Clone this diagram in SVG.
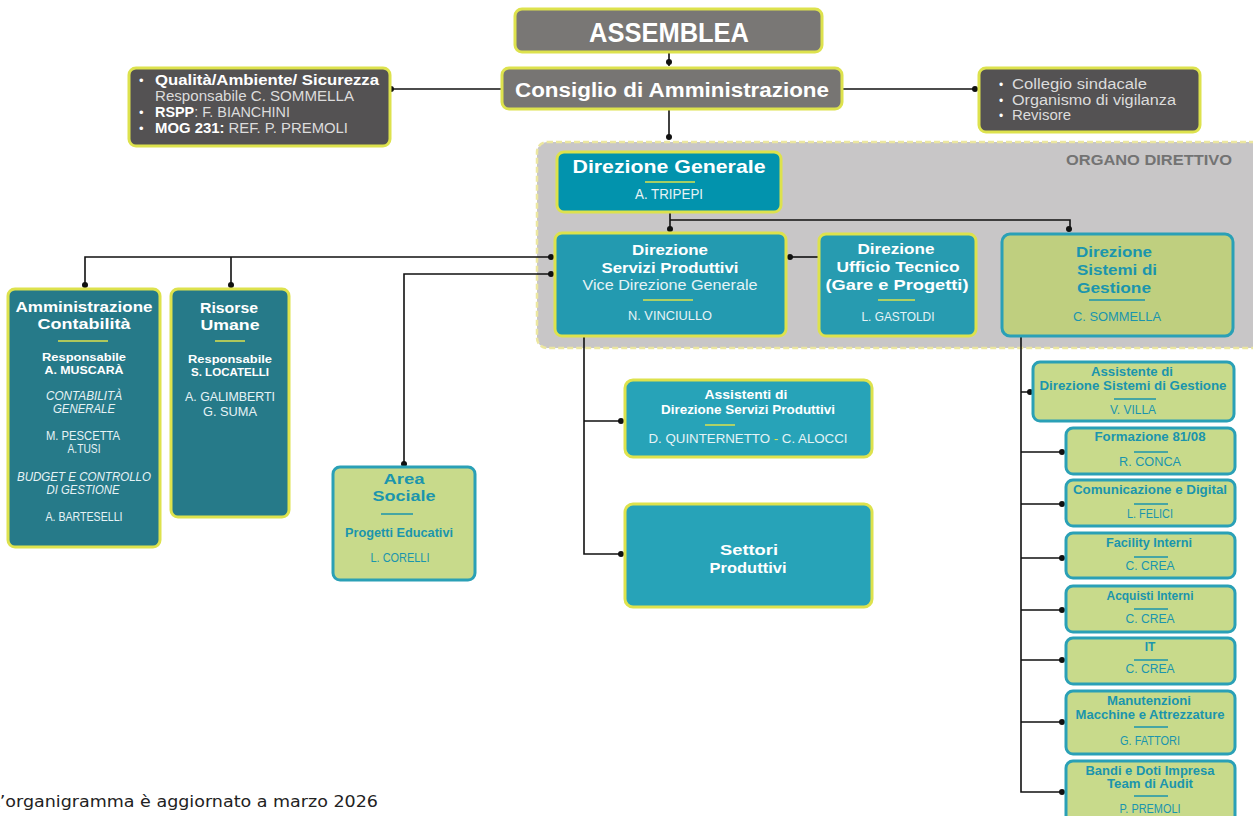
<svg xmlns="http://www.w3.org/2000/svg" width="1253" height="816" viewBox="0 0 1253 816">
<defs>
<style>
.t{font-family:"Liberation Sans",Arial,sans-serif}
.b{font-weight:bold}
.w{fill:#ffffff}
.lw{fill:#e6f3f6}
.tc{fill:#1b95ad}
.gy{fill:#dcdcdc}
.mid{text-anchor:middle}
.ylbox{stroke:#dde24d;stroke-width:3}
.tlbox{stroke:#2aa0b6;stroke-width:3}
.conn{stroke:#111;stroke-width:1.6;fill:none}
.dot{fill:#111}
</style>
</defs>
<rect width="1253" height="816" fill="#ffffff"/>

<g id="organo-direttivo">
<rect x="537" y="142" width="730" height="206" rx="10" fill="#c8c6c7" stroke="#ece7a0" stroke-width="2.5" stroke-dasharray="6 3"/>
<text class="t b" x="1232" y="165" font-size="15" fill="#737373" text-anchor="end" textLength="166" lengthAdjust="spacingAndGlyphs">ORGANO DIRETTIVO</text>
</g>

<g id="connectors">
<path class="conn" d="M669 52 V66"/>
<circle class="dot" cx="669" cy="62" r="3"/>
<path class="conn" d="M502 89 H390"/>
<circle class="dot" cx="391" cy="89" r="3"/>
<path class="conn" d="M842 89 H978"/>
<circle class="dot" cx="975" cy="89" r="3"/>
<path class="conn" d="M669 109 V138"/>
<circle class="dot" cx="669" cy="137" r="3"/>
<path class="conn" d="M670 212 V230 M670 220 H1070 V230"/>
<circle class="dot" cx="670" cy="229" r="3"/>
<circle class="dot" cx="1069" cy="229" r="3"/>
<path class="conn" d="M819 257 H789"/>
<circle class="dot" cx="790" cy="257" r="3"/>
<path class="conn" d="M555 257 H85 V288 M231 257 V288"/>
<circle class="dot" cx="551" cy="257" r="3"/>
<circle class="dot" cx="85" cy="285" r="3"/>
<circle class="dot" cx="231" cy="285" r="3"/>
<path class="conn" d="M555 274 H404 V466"/>
<circle class="dot" cx="551" cy="274" r="3"/>
<circle class="dot" cx="404" cy="464" r="3"/>
<path class="conn" d="M584 336 V554 H622 M584 421 H622"/>
<circle class="dot" cx="621" cy="421" r="3"/>
<circle class="dot" cx="621" cy="554" r="3"/>
<path class="conn" d="M1021 336 V792 H1064 M1021 392 H1031 M1021 452 H1064 M1021 504 H1064 M1021 558 H1064 M1021 610 H1064 M1021 660 H1064 M1021 722 H1064"/>
<circle class="dot" cx="1030" cy="392" r="3"/>
<circle class="dot" cx="1062" cy="452" r="3"/>
<circle class="dot" cx="1062" cy="504" r="3"/>
<circle class="dot" cx="1062" cy="558" r="3"/>
<circle class="dot" cx="1062" cy="610" r="3"/>
<circle class="dot" cx="1062" cy="660" r="3"/>
<circle class="dot" cx="1062" cy="722" r="3"/>
<circle class="dot" cx="1062" cy="792" r="3"/>
</g>

<g id="assemblea">
<rect class="ylbox" x="515" y="9" width="307" height="43" rx="7" fill="#797775"/>
<text class="t b w mid" x="669" y="42" font-size="27" textLength="160" lengthAdjust="spacingAndGlyphs">ASSEMBLEA</text>
</g>

<g id="consiglio">
<rect class="ylbox" x="502" y="68" width="340" height="41" rx="7" fill="#777573"/>
<text class="t b w mid" x="672" y="97" font-size="20" textLength="314" lengthAdjust="spacingAndGlyphs">Consiglio di Amministrazione</text>
</g>

<g id="qualita">
<rect class="ylbox" x="129" y="68" width="261" height="78" rx="7" fill="#545253"/>
<text class="t w" x="139" y="85" font-size="13">•</text>
<text class="t b w" x="155" y="85" font-size="14" textLength="224" lengthAdjust="spacingAndGlyphs">Qualità/Ambiente/ Sicurezza</text>
<text class="t gy" x="155" y="101" font-size="14.5" textLength="199" lengthAdjust="spacingAndGlyphs">Responsabile C. SOMMELLA</text>
<text class="t w" x="139" y="117" font-size="13">•</text>
<text class="t gy" x="155" y="117" font-size="14.5" textLength="135" lengthAdjust="spacingAndGlyphs"><tspan class="b w">RSPP</tspan>: F. BIANCHINI</text>
<text class="t w" x="139" y="133" font-size="13">•</text>
<text class="t gy" x="155" y="133" font-size="14.5" textLength="193" lengthAdjust="spacingAndGlyphs"><tspan class="b w">MOG 231:</tspan> REF. P. PREMOLI</text>
</g>

<g id="collegio">
<rect class="ylbox" x="979" y="68" width="221" height="64" rx="7" fill="#545253"/>
<text class="t w" x="999" y="89" font-size="12">•</text>
<text class="t gy" x="1012" y="89" font-size="15.5" textLength="135" lengthAdjust="spacingAndGlyphs">Collegio sindacale</text>
<text class="t w" x="999" y="105" font-size="12">•</text>
<text class="t gy" x="1012" y="105" font-size="15.5" textLength="164" lengthAdjust="spacingAndGlyphs">Organismo di vigilanza</text>
<text class="t w" x="999" y="120" font-size="12">•</text>
<text class="t gy" x="1012" y="120" font-size="15.5" textLength="59" lengthAdjust="spacingAndGlyphs">Revisore</text>
</g>

<g id="direzione-generale">
<rect class="ylbox" x="557" y="152" width="224" height="60" rx="7" fill="#0293ad"/>
<text class="t b w mid" x="669" y="173" font-size="19" textLength="193" lengthAdjust="spacingAndGlyphs">Direzione Generale</text>
<line x1="645" y1="182" x2="695" y2="182" stroke="#dde24d" stroke-width="1.5"/>
<text class="t lw mid" x="669" y="199" font-size="14" textLength="68" lengthAdjust="spacingAndGlyphs">A. TRIPEPI</text>
</g>

<g id="direzione-servizi-produttivi">
<rect class="ylbox" x="555" y="233" width="231" height="103" rx="7" fill="#239ab0"/>
<text class="t b w mid" x="670" y="255" font-size="15.5" textLength="76" lengthAdjust="spacingAndGlyphs">Direzione</text>
<text class="t b w mid" x="670" y="273" font-size="15.5" textLength="137" lengthAdjust="spacingAndGlyphs">Servizi Produttivi</text>
<text class="t lw mid" x="670" y="290" font-size="15" textLength="175" lengthAdjust="spacingAndGlyphs">Vice Direzione Generale</text>
<line x1="643" y1="300" x2="693" y2="300" stroke="#dde24d" stroke-width="1.5"/>
<text class="t lw mid" x="670" y="320" font-size="13" textLength="84" lengthAdjust="spacingAndGlyphs">N. VINCIULLO</text>
</g>

<g id="direzione-ufficio-tecnico">
<rect class="ylbox" x="819" y="234" width="157" height="102" rx="7" fill="#279bb0"/>
<text class="t b w mid" x="896" y="254" font-size="15.5" textLength="77" lengthAdjust="spacingAndGlyphs">Direzione</text>
<text class="t b w mid" x="898" y="272" font-size="15.5" textLength="123" lengthAdjust="spacingAndGlyphs">Ufficio Tecnico</text>
<text class="t b w mid" x="897" y="290" font-size="15.5" textLength="143" lengthAdjust="spacingAndGlyphs">(Gare e Progetti)</text>
<line x1="878" y1="300" x2="915" y2="300" stroke="#dde24d" stroke-width="1.5"/>
<text class="t lw mid" x="898" y="321" font-size="13" textLength="73" lengthAdjust="spacingAndGlyphs">L. GASTOLDI</text>
</g>

<g id="direzione-sistemi-gestione">
<rect class="tlbox" x="1002" y="234" width="231" height="102" rx="8" fill="#bfcf7f"/>
<text class="t b tc" x="1076" y="257" font-size="15.5" textLength="76" lengthAdjust="spacingAndGlyphs">Direzione</text>
<text class="t b tc" x="1077" y="275" font-size="15.5" textLength="80" lengthAdjust="spacingAndGlyphs">Sistemi di</text>
<text class="t b tc" x="1077" y="293" font-size="15.5" textLength="74" lengthAdjust="spacingAndGlyphs">Gestione</text>
<line x1="1089" y1="300" x2="1145" y2="300" stroke="#1b95ad" stroke-width="1.5"/>
<text class="t tc mid" x="1117" y="321" font-size="13" textLength="88" lengthAdjust="spacingAndGlyphs">C. SOMMELLA</text>
</g>

<g id="amministrazione-contabilita">
<rect class="ylbox" x="8" y="289" width="152" height="258" rx="7" fill="#267a89"/>
<text class="t b w mid" x="84" y="312" font-size="15.5" textLength="137" lengthAdjust="spacingAndGlyphs">Amministrazione</text>
<text class="t b w mid" x="84" y="329" font-size="15.5" textLength="93" lengthAdjust="spacingAndGlyphs">Contabilità</text>
<line x1="58" y1="341" x2="108" y2="341" stroke="#dde24d" stroke-width="1.5"/>
<text class="t b w mid" x="84" y="361" font-size="11.5" textLength="84" lengthAdjust="spacingAndGlyphs">Responsabile</text>
<text class="t b w mid" x="84" y="374" font-size="11.5" textLength="79" lengthAdjust="spacingAndGlyphs">A. MUSCARÀ</text>
<text class="t lw mid" x="84" y="400" font-size="12" font-style="italic" textLength="76" lengthAdjust="spacingAndGlyphs">CONTABILITÀ</text>
<text class="t lw mid" x="84" y="413" font-size="12" font-style="italic" textLength="62" lengthAdjust="spacingAndGlyphs">GENERALE</text>
<text class="t lw mid" x="83" y="440" font-size="12" textLength="74" lengthAdjust="spacingAndGlyphs">M. PESCETTA</text>
<text class="t lw mid" x="84" y="453" font-size="12" textLength="33" lengthAdjust="spacingAndGlyphs">A.TUSI</text>
<text class="t lw mid" x="84" y="481" font-size="12" font-style="italic" textLength="134" lengthAdjust="spacingAndGlyphs">BUDGET E CONTROLLO</text>
<text class="t lw mid" x="83" y="494" font-size="12" font-style="italic" textLength="73" lengthAdjust="spacingAndGlyphs">DI GESTIONE</text>
<text class="t lw mid" x="84" y="521" font-size="12" textLength="77" lengthAdjust="spacingAndGlyphs">A. BARTESELLI</text>
</g>

<g id="risorse-umane">
<rect class="ylbox" x="171" y="289" width="118" height="228" rx="7" fill="#267a89"/>
<text class="t b w mid" x="229" y="313" font-size="15.5" textLength="58" lengthAdjust="spacingAndGlyphs">Risorse</text>
<text class="t b w mid" x="230" y="330" font-size="15.5" textLength="59" lengthAdjust="spacingAndGlyphs">Umane</text>
<line x1="215" y1="341" x2="245" y2="341" stroke="#dde24d" stroke-width="1.5"/>
<text class="t b w mid" x="230" y="363" font-size="11.5" textLength="84" lengthAdjust="spacingAndGlyphs">Responsabile</text>
<text class="t b w mid" x="230" y="376" font-size="11.5" textLength="78" lengthAdjust="spacingAndGlyphs">S. LOCATELLI</text>
<text class="t lw mid" x="230" y="401" font-size="12" textLength="90" lengthAdjust="spacingAndGlyphs">A. GALIMBERTI</text>
<text class="t lw mid" x="230" y="416" font-size="12" textLength="54" lengthAdjust="spacingAndGlyphs">G. SUMA</text>
</g>

<g id="area-sociale">
<rect class="tlbox" x="333" y="467" width="142" height="113" rx="7" fill="#c8da8b"/>
<text class="t b tc mid" x="404" y="484" font-size="15.5" textLength="41" lengthAdjust="spacingAndGlyphs">Area</text>
<text class="t b tc mid" x="404" y="501" font-size="15.5" textLength="63" lengthAdjust="spacingAndGlyphs">Sociale</text>
<line x1="381" y1="514" x2="413" y2="514" stroke="#1b95ad" stroke-width="1.5"/>
<text class="t b tc mid" x="399" y="537" font-size="12" textLength="108" lengthAdjust="spacingAndGlyphs">Progetti Educativi</text>
<text class="t tc mid" x="400" y="562" font-size="13" textLength="59" lengthAdjust="spacingAndGlyphs">L. CORELLI</text>
</g>

<g id="assistenti-dsp">
<rect class="ylbox" x="625" y="380" width="247" height="77" rx="8" fill="#27a3b8"/>
<text class="t b w mid" x="746" y="399" font-size="12" textLength="83" lengthAdjust="spacingAndGlyphs">Assistenti di</text>
<text class="t b w mid" x="748" y="414" font-size="12" textLength="174" lengthAdjust="spacingAndGlyphs">Direzione Servizi Produttivi</text>
<line x1="705" y1="425" x2="735" y2="425" stroke="#dde24d" stroke-width="1.5"/>
<text class="t lw mid" x="748" y="443" font-size="13" textLength="199" lengthAdjust="spacingAndGlyphs">D. QUINTERNETTO <tspan fill="#dde24d">-</tspan> C. ALOCCI</text>
</g>

<g id="settori-produttivi">
<rect class="ylbox" x="625" y="504" width="247" height="103" rx="8" fill="#27a3b8"/>
<text class="t b w mid" x="749" y="555" font-size="15.5" textLength="58" lengthAdjust="spacingAndGlyphs">Settori</text>
<text class="t b w mid" x="748" y="573" font-size="15.5" textLength="77" lengthAdjust="spacingAndGlyphs">Produttivi</text>
</g>

<g id="assistente-dsg">
<rect class="tlbox" x="1033" y="362" width="201" height="59" rx="7" fill="#c8da8b"/>
<text class="t b tc mid" x="1132" y="376" font-size="12" textLength="82" lengthAdjust="spacingAndGlyphs">Assistente di</text>
<text class="t b tc mid" x="1133" y="390" font-size="12" textLength="187" lengthAdjust="spacingAndGlyphs">Direzione Sistemi di Gestione</text>
<line x1="1114" y1="399" x2="1156" y2="399" stroke="#1b95ad" stroke-width="1.5"/>
<text class="t tc mid" x="1133" y="414" font-size="12" textLength="46" lengthAdjust="spacingAndGlyphs">V. VILLA</text>
</g>

<g id="formazione">
<rect class="tlbox" x="1066" y="428" width="169" height="46" rx="7" fill="#c8da8b"/>
<text class="t b tc mid" x="1150" y="441" font-size="12" textLength="111" lengthAdjust="spacingAndGlyphs">Formazione 81/08</text>
<line x1="1134" y1="452" x2="1168" y2="452" stroke="#1b95ad" stroke-width="1.5"/>
<text class="t tc mid" x="1150" y="466" font-size="12" textLength="62" lengthAdjust="spacingAndGlyphs">R. CONCA</text>
</g>

<g id="comunicazione">
<rect class="tlbox" x="1066" y="480" width="169" height="46" rx="7" fill="#c8da8b"/>
<text class="t b tc mid" x="1150" y="494" font-size="12" textLength="154" lengthAdjust="spacingAndGlyphs">Comunicazione e Digital</text>
<line x1="1134" y1="504" x2="1168" y2="504" stroke="#1b95ad" stroke-width="1.5"/>
<text class="t tc mid" x="1150" y="518" font-size="12" textLength="46" lengthAdjust="spacingAndGlyphs">L. FELICI</text>
</g>

<g id="facility">
<rect class="tlbox" x="1066" y="533" width="169" height="45" rx="7" fill="#c8da8b"/>
<text class="t b tc mid" x="1149" y="547" font-size="12" textLength="86" lengthAdjust="spacingAndGlyphs">Facility Interni</text>
<line x1="1134" y1="557" x2="1168" y2="557" stroke="#1b95ad" stroke-width="1.5"/>
<text class="t tc mid" x="1150" y="570" font-size="12" textLength="49" lengthAdjust="spacingAndGlyphs">C. CREA</text>
</g>

<g id="acquisti">
<rect class="tlbox" x="1066" y="586" width="169" height="46" rx="7" fill="#c8da8b"/>
<text class="t b tc mid" x="1150" y="600" font-size="12" textLength="87" lengthAdjust="spacingAndGlyphs">Acquisti Interni</text>
<line x1="1134" y1="609" x2="1168" y2="609" stroke="#1b95ad" stroke-width="1.5"/>
<text class="t tc mid" x="1150" y="623" font-size="12" textLength="49" lengthAdjust="spacingAndGlyphs">C. CREA</text>
</g>

<g id="it">
<rect class="tlbox" x="1066" y="638" width="169" height="46" rx="7" fill="#c8da8b"/>
<text class="t b tc mid" x="1150" y="651" font-size="12">IT</text>
<line x1="1134" y1="660" x2="1168" y2="660" stroke="#1b95ad" stroke-width="1.5"/>
<text class="t tc mid" x="1150" y="673" font-size="12" textLength="49" lengthAdjust="spacingAndGlyphs">C. CREA</text>
</g>

<g id="manutenzioni">
<rect class="tlbox" x="1066" y="691" width="169" height="63" rx="7" fill="#c8da8b"/>
<text class="t b tc mid" x="1149" y="705" font-size="12" textLength="84" lengthAdjust="spacingAndGlyphs">Manutenzioni</text>
<text class="t b tc mid" x="1150" y="719" font-size="12" textLength="149" lengthAdjust="spacingAndGlyphs">Macchine e Attrezzature</text>
<line x1="1134" y1="727" x2="1168" y2="727" stroke="#1b95ad" stroke-width="1.5"/>
<text class="t tc mid" x="1150" y="745" font-size="12" textLength="60" lengthAdjust="spacingAndGlyphs">G. FATTORI</text>
</g>

<g id="bandi">
<rect class="tlbox" x="1066" y="761" width="169" height="70" rx="7" fill="#c8da8b"/>
<text class="t b tc mid" x="1150" y="775" font-size="12" textLength="129" lengthAdjust="spacingAndGlyphs">Bandi e Doti Impresa</text>
<text class="t b tc mid" x="1150" y="788" font-size="12" textLength="86" lengthAdjust="spacingAndGlyphs">Team di Audit</text>
<line x1="1134" y1="796" x2="1168" y2="796" stroke="#1b95ad" stroke-width="1.5"/>
<text class="t tc mid" x="1150" y="813" font-size="12" textLength="61" lengthAdjust="spacingAndGlyphs">P. PREMOLI</text>
</g>

<text x="-10" y="807" font-family="'DejaVu Sans',Verdana,sans-serif" font-size="15" fill="#222" textLength="388" lengthAdjust="spacingAndGlyphs">L’organigramma è aggiornato a marzo 2026</text>
</svg>
